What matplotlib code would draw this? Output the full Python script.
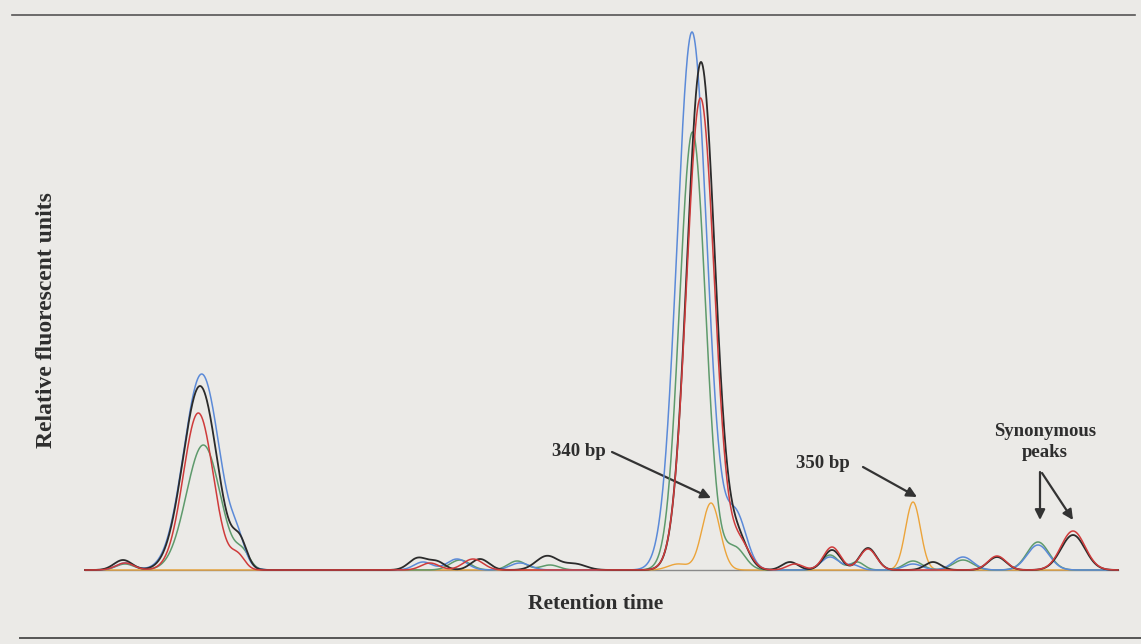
import numpy as np
import matplotlib
matplotlib.use('Agg')
import matplotlib.pyplot as plt

# ---- peak tables (position, height, width) ----
blue_pos    = [125, 201.7, 238, 423, 457, 520, 692, 736, 830, 853, 913, 963, 1038]
blue_height = [7, 196, 18, 8, 11, 7, 538, 54, 13, 5, 6, 13, 25]
blue_width  = [9, 18, 7, 9, 10, 10, 15, 10.5, 9, 7, 9, 10, 11]

black_pos    = [123, 200, 240, 418, 437, 480, 547, 575, 701, 738, 790, 832, 868, 933, 997, 1073]
black_height = [10, 184, 24, 12, 8, 11, 14, 6, 508, 30, 8, 20, 22, 8, 13, 35]
black_width  = [9, 17, 7, 9, 8, 9, 11, 11, 14, 10, 8, 8.5, 8.5, 8, 9, 12]

red_pos    = [125, 198.3, 238, 430, 473, 700.5, 740, 795, 832, 868, 997, 1073]
red_height = [7, 157, 13, 7, 11, 472, 26, 6, 23, 21, 14, 39]
red_width  = [9, 15, 7, 9, 10, 14, 10, 8, 8.5, 8.5, 9, 12]

green_pos    = [125, 203.3, 243, 460, 517, 550, 692.5, 735, 830, 857, 913, 963, 1038]
green_height = [6, 125, 14, 10, 9, 5, 438, 22, 15, 8, 9, 10, 28]
green_width  = [9, 17, 7, 10, 9, 9, 13, 10, 8.5, 7, 9, 10, 11]

orange_pos    = [678, 711, 913]
orange_height = [6, 67, 68]
orange_width  = [10, 9, 7.5]

labels = ["340 bp", "350 bp", "Synonymous\npeaks"]
xlabel = "Retention time"
ylabel = "Relative fluorescent units"

BG = '#ebeae7'
fig = plt.figure(figsize=(11.41, 6.44), dpi=100, facecolor=BG)
ax = fig.add_axes([0, 0, 1, 1])
ax.set_facecolor(BG)
ax.set_xlim(0, 1141)
ax.set_ylim(-74, 570)
ax.axis('off')

x = np.linspace(85, 1118, 4000)

def trace(pos, h, w):
    y = np.zeros_like(x)
    for p, hh, ww in zip(pos, h, w):
        y += hh * np.exp(-0.5 * ((x - p) / ww) ** 2)
    return y

# frame lines and baseline
ax.plot([12, 1135], [555, 555], color='#555555', lw=1.2)
ax.plot([20, 1141], [-68, -68], color='#555555', lw=1.4)
ax.plot([85, 1118], [0, 0], color='#8a8a8a', lw=1.0)

ax.plot(x, trace(orange_pos, orange_height, orange_width), color='#eba43a', lw=1.0, zorder=3)
ax.plot(x, trace(green_pos, green_height, green_width), color='#5e9a6c', lw=1.1, zorder=4)
ax.plot(x, trace(blue_pos, blue_height, blue_width), color='#5b8ad8', lw=1.1, zorder=5)
ax.plot(x, trace(black_pos, black_height, black_width), color='#2b2b2b', lw=1.3, zorder=6)
ax.plot(x, trace(red_pos, red_height, red_width), color='#cf3b3b', lw=1.1, zorder=7)

font = dict(family='Liberation Serif', weight='bold', color='#2e2e2e')
ax.text(579, 570 - 451, labels[0], ha='center', va='center', fontsize=13.5, **font)
ax.text(823, 570 - 463, labels[1], ha='center', va='center', fontsize=13.5, **font)
ax.text(1045, 570 - 442, labels[2], ha='center', va='center', fontsize=13.5,
        linespacing=1.3, **font)
ax.text(596, 570 - 604, xlabel, ha='center', va='center', fontsize=15.5, **font)
ax.text(47, 570 - 320, ylabel, ha='center', va='center', rotation=90, fontsize=17, **font)

arrow = dict(arrowstyle='-|>', color='#333333', lw=1.6, mutation_scale=15, shrinkA=0, shrinkB=0)
ax.annotate('', xy=(711, 570 - 498), xytext=(612, 570 - 452), arrowprops=arrow)
ax.annotate('', xy=(917, 570 - 497), xytext=(863, 570 - 467), arrowprops=arrow)
ax.annotate('', xy=(1040, 570 - 520), xytext=(1040, 570 - 472), arrowprops=arrow)
ax.annotate('', xy=(1073, 570 - 520), xytext=(1042, 570 - 473), arrowprops=arrow)

fig.savefig('out.png', dpi=100, facecolor=BG)
